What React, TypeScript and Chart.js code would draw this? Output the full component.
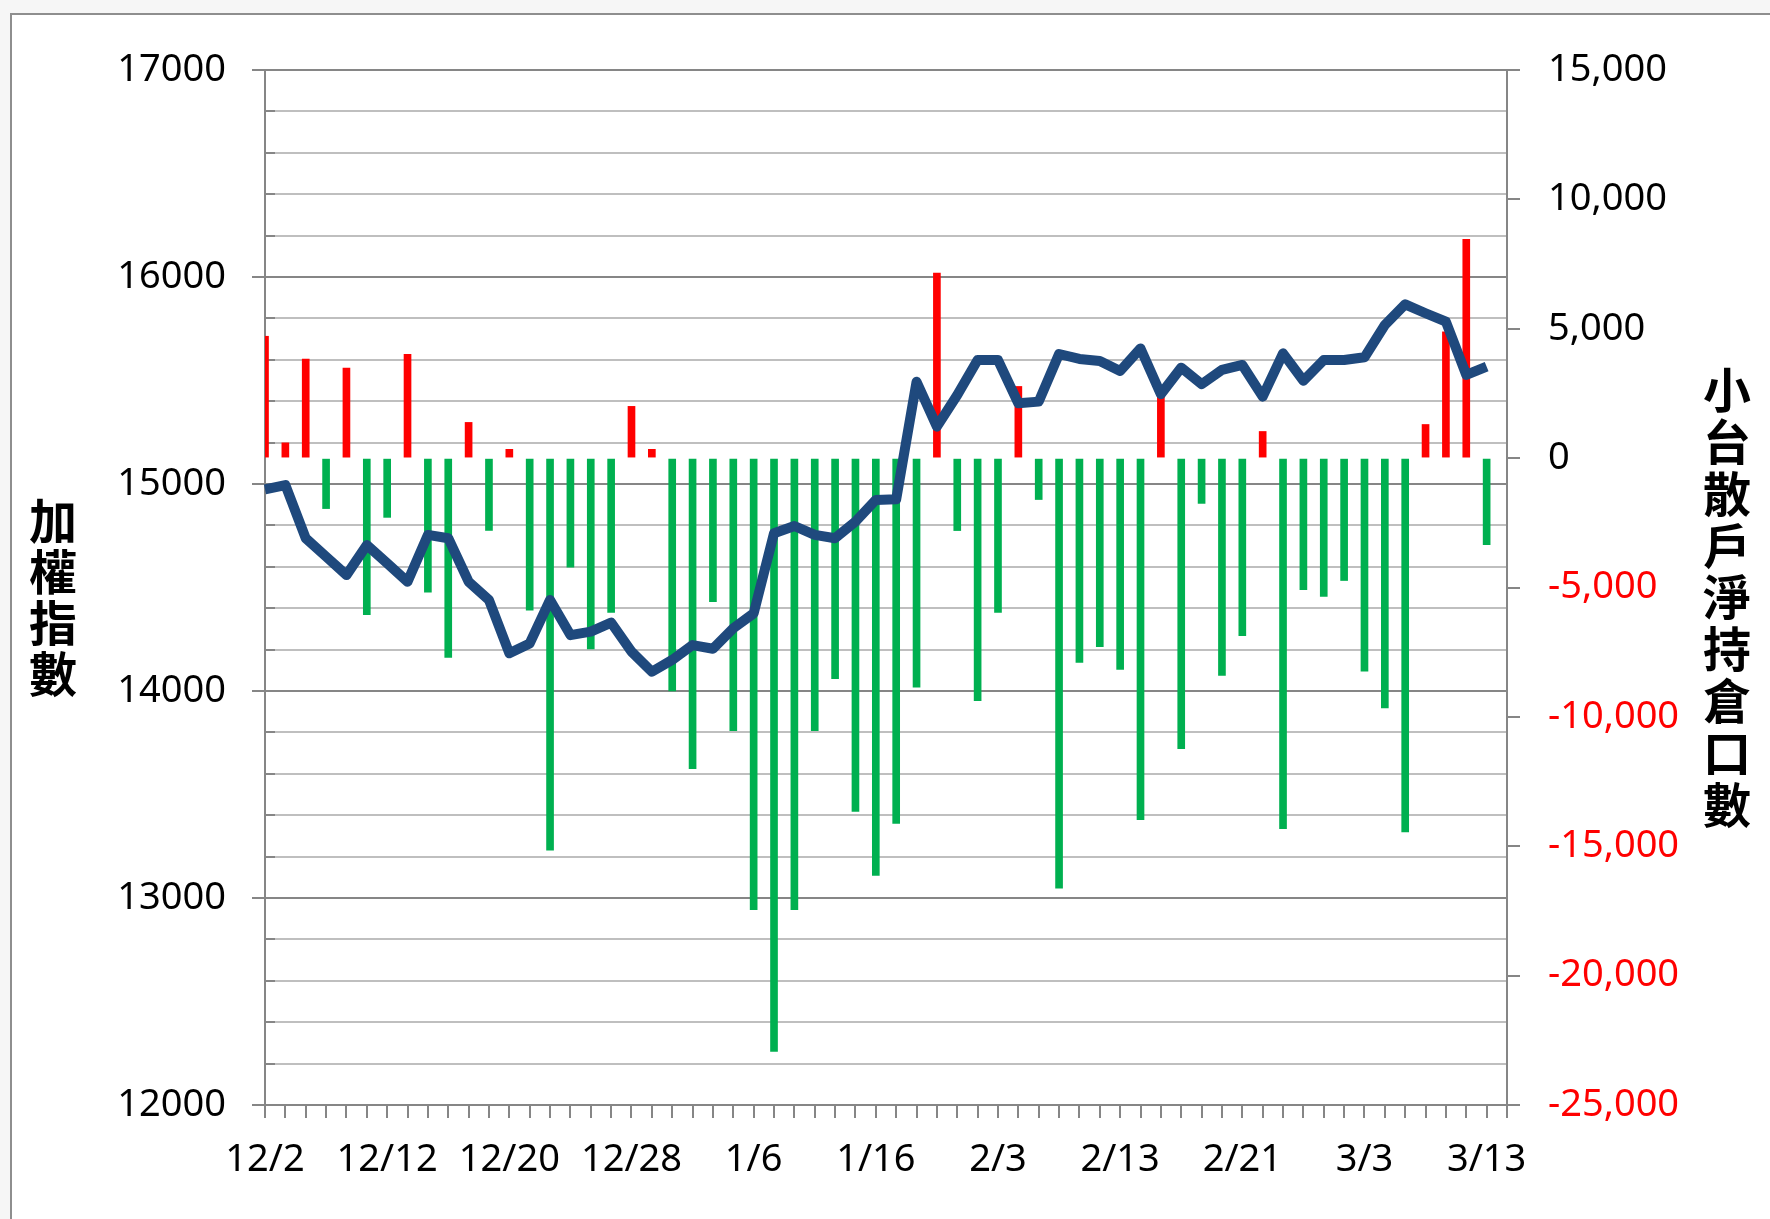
import React, { useEffect, useRef } from "react";
import { Chart, registerables } from "chart.js";

Chart.register(...registerables);

// Trading days (category axis); the last category has no data
const categories: string[] = [
  "12/2", "12/5", "12/6", "12/7", "12/8", "12/9", "12/12", "12/13", "12/14", "12/15",
  "12/16", "12/19", "12/20", "12/21", "12/22", "12/23", "12/26", "12/27", "12/28", "12/29",
  "12/30", "1/3", "1/4", "1/5", "1/6", "1/9", "1/10", "1/11", "1/12", "1/13",
  "1/16", "1/17", "1/30", "1/31", "2/1", "2/2", "2/3", "2/6", "2/7", "2/8",
  "2/9", "2/10", "2/13", "2/14", "2/15", "2/16", "2/17", "2/20", "2/21", "2/22",
  "2/23", "2/24", "3/1", "3/2", "3/3", "3/6", "3/7", "3/8", "3/9", "3/10",
  "3/13", "3/14",
];

// 加權指數 (left axis)
const indexValues: (number | null)[] = [
  14974, 14995, 14738, 14649, 14560, 14705, 14617, 14528, 14754, 14738,
  14528, 14440, 14182, 14230, 14440, 14270, 14287, 14330, 14190, 14093,
  14150, 14222, 14204, 14303, 14375, 14762, 14797, 14754, 14738, 14818,
  14923, 14926, 15494, 15277, 15430, 15599, 15599, 15390, 15398, 15628,
  15604, 15594, 15546, 15655, 15434, 15562, 15482, 15551, 15575, 15422,
  15631, 15499, 15599, 15599, 15612, 15768, 15868, 15825, 15784, 15527,
  15567, null,
];

// 小台散戶淨持倉口數 (right axis)
const retailNet: (number | null)[] = [
  4710, 590, 3830, -1950, 3480, -6050, -2290, 4010, -5180, -7700,
  1380, -2795, 340, -5880, -15150, -4210, -7370, -5960, 2000, 340,
  -9000, -12000, -5550, -10530, -17450, -22930, -17450, -10530, -8520, -13650,
  -16130, -14120, -8850, 7150, -2800, -9370, -5960, 2770, -1600, -16620,
  -7900, -7290, -8170, -13970, 2400, -11230, -1750, -8400, -6860, 1030,
  -14320, -5080, -5340, -4730, -8230, -9650, -14450, 1300, 4880, 8460,
  -3340, null,
];

const leftTitle = "加權指數";
const rightTitle = "小台散戶淨持倉口數";

const leftMin = 12000;
const leftMax = 17000;
const leftMinorStep = 200;
const leftMajorStep = 1000;
const rightMin = -25000;
const rightMax = 15000;
const rightStep = 5000;
const labelEvery = 6;

const AXIS = "#868686";
const MINOR = "#BFBFBF";
const LATIN = '"Noto Sans", "Open Sans", sans-serif';
const CJK = '"Noto Sans CJK TC", "Noto Sans CJK SC", sans-serif';

const titlesPlugin = {
  id: "verticalTitles",
  beforeDatasetsDraw(chart: any) {
    const ctx = chart.ctx;
    const sc = chart.scales.y;
    const left = chart.chartArea.left;
    ctx.save();
    ctx.strokeStyle = AXIS;
    ctx.lineWidth = 2;
    sc.ticks.forEach((t: any) => {
      if (t.value % leftMajorStep !== 0) {
        const y = Math.round(sc.getPixelForValue(t.value));
        ctx.beginPath();
        ctx.moveTo(left, y);
        ctx.lineTo(left + 10, y);
        ctx.stroke();
      }
    });
    ctx.restore();
  },
  afterDraw(chart: any) {
    const ctx = chart.ctx;
    ctx.save();
    ctx.fillStyle = "#000";
    ctx.textAlign = "center";
    ctx.textBaseline = "middle";
    ctx.font = `bold 48px ${CJK}`;
    Array.from(leftTitle).forEach((ch, i) => {
      ctx.fillText(ch, 53, 521 + i * 51);
    });
    Array.from(rightTitle).forEach((ch, i) => {
      ctx.fillText(ch, 1727, 390 + i * 51.8);
    });
    ctx.restore();
  },
};

export default function App() {
  const ref = useRef<HTMLCanvasElement | null>(null);

  useEffect(() => {
    if (!ref.current) return;
    Chart.defaults.font.family = LATIN;
    const chart = new Chart(ref.current, {
      type: "bar",
      data: {
        labels: categories,
        datasets: [
          {
            type: "line",
            label: leftTitle,
            data: indexValues,
            yAxisID: "y",
            borderColor: "#1F497D",
            backgroundColor: "#1F497D",
            borderWidth: 10,
            pointRadius: 0,
            tension: 0,
            borderJoinStyle: "round",
            order: 0,
          } as any,
          {
            type: "bar",
            label: rightTitle,
            data: retailNet,
            yAxisID: "y1",
            backgroundColor: retailNet.map((v) => ((v ?? 0) >= 0 ? "#FF0000" : "#00B050")),
            barThickness: 7,
            order: 1,
          } as any,
        ],
      },
      options: {
        responsive: false,
        animation: false,
        layout: { padding: { top: 70, left: 0, right: 0, bottom: 0 } },
        plugins: { legend: { display: false }, tooltip: { enabled: false } },
        scales: {
          x: {
            type: "category",
            offset: false,
            afterFit: (s: any) => {
              s.height = 114;
              s.paddingLeft = 0;
              s.paddingRight = 0;
            },
            grid: {
              offset: false,
              drawOnChartArea: false,
              drawTicks: true,
              tickLength: 13,
              color: AXIS,
              tickColor: AXIS,
              lineWidth: 2,
            },
            border: { display: true, color: AXIS, width: 2 },
            ticks: {
              autoSkip: false,
              maxRotation: 0,
              minRotation: 0,
              padding: 19,
              color: "#000",
              font: { size: 38, family: LATIN },
              callback: (_v: any, i: number) => (i % labelEvery === 0 && i < indexValues.length - 1 ? categories[i] : ""),
            },
          },
          y: {
            type: "linear",
            position: "left",
            min: leftMin,
            max: leftMax,
            afterFit: (s: any) => {
              s.width = 265;
              s.paddingTop = 0;
              s.paddingBottom = 0;
            },
            grid: {
              drawOnChartArea: true,
              drawTicks: true,
              tickLength: 13,
              lineWidth: 2,
              color: (c: any) => (c.tick && c.tick.value % leftMajorStep === 0 ? AXIS : MINOR),
              tickColor: (c: any) => (c.tick && c.tick.value % leftMajorStep === 0 ? AXIS : "rgba(0,0,0,0)"),
            },
            border: { display: true, color: AXIS, width: 2 },
            ticks: {
              stepSize: leftMinorStep,
              autoSkip: false,
              padding: 26,
              color: "#000",
              font: { size: 38, family: LATIN },
              callback: (v: any) => (Number(v) % leftMajorStep === 0 ? String(v) : ""),
            },
          },
          y1: {
            type: "linear",
            position: "right",
            min: rightMin,
            max: rightMax,
            afterFit: (s: any) => {
              s.width = 263;
              s.paddingTop = 0;
              s.paddingBottom = 0;
            },
            grid: {
              drawOnChartArea: false,
              drawTicks: true,
              tickLength: 13,
              lineWidth: 2,
              color: AXIS,
              tickColor: AXIS,
            },
            border: { display: true, color: AXIS, width: 2 },
            ticks: {
              stepSize: rightStep,
              autoSkip: false,
              padding: 28,
              font: { size: 38, family: LATIN },
              color: (c: any) => (c.tick && c.tick.value < 0 ? "#FF0000" : "#000"),
              callback: (v: any) => Number(v).toLocaleString("en-US"),
            },
          },
        },
      } as any,
      plugins: [titlesPlugin],
    });
    return () => chart.destroy();
  }, []);

  return (
    <div
      style={{
        position: "fixed",
        left: 0,
        top: 0,
        width: 1770,
        height: 1219,
        background: "#F6F6F6",
        overflow: "hidden",
      }}
    >
      <div
        style={{
          position: "absolute",
          left: 10,
          top: 13,
          width: 1800,
          height: 1260,
          background: "#FFFFFF",
          borderLeft: "2px solid #8E8E8E",
          borderTop: "2px solid #8E8E8E",
        }}
      />
      <canvas
        ref={ref}
        width={1770}
        height={1219}
        style={{ position: "absolute", left: 0, top: 0, width: 1770, height: 1219 }}
      />
    </div>
  );
}
